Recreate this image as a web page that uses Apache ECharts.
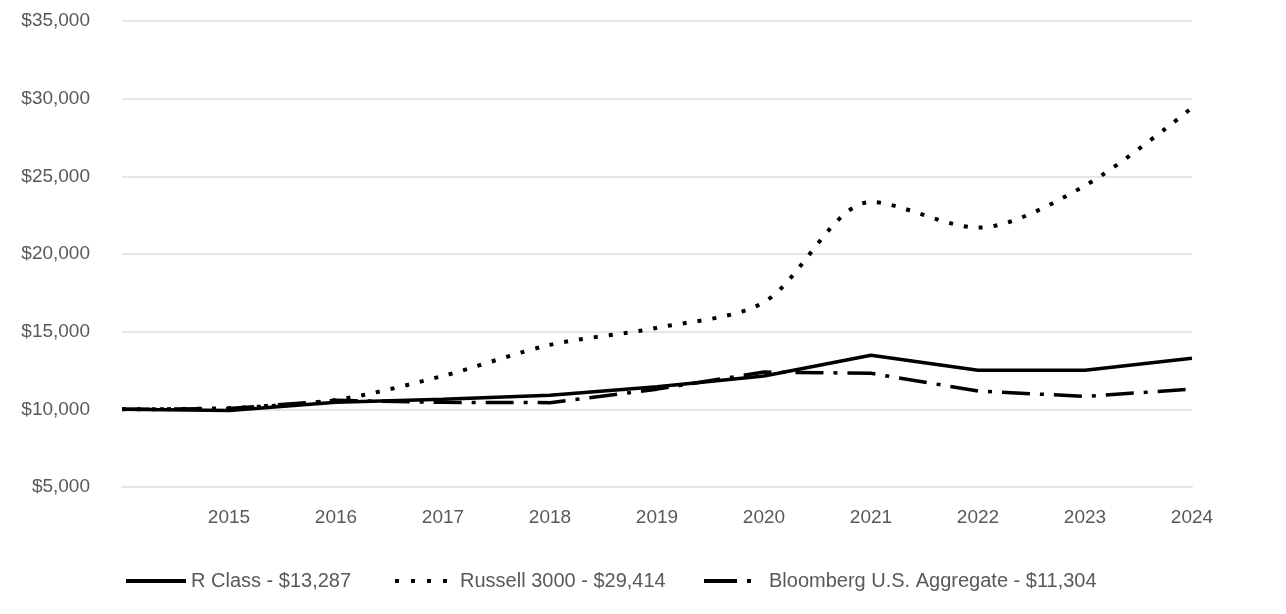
<!DOCTYPE html>
<html><head><meta charset="utf-8">
<script src="https://cdn.jsdelivr.net/npm/echarts@6/dist/echarts.min.js"></script>
<style>html,body{margin:0;padding:0;background:#fff}#c{width:1286px;height:614px}</style>
</head><body><div id="c"></div>
<script>
const years = ['2014','2015','2016','2017','2018','2019','2020','2021','2022','2023','2024'];
const rClass = [10000, 9930, 10450, 10650, 10900, 11450, 12150, 13480, 12520, 12520, 13287];
const russell = [10000, 10080, 10600, 12150, 14150, 15250, 16900, 23350, 21700, 24400, 29414];
const bloomberg = [10000, 10050, 10580, 10450, 10430, 11300, 12400, 12320, 11180, 10830, 11304];
const names = ['R Class - $13,287', 'Russell 3000 - $29,414', 'Bloomberg U.S. Aggregate - $11,304'];
const yTicks = {min: 5000, max: 35000, interval: 5000};
const font = "'Liberation Sans Narrow','Arial Narrow','Liberation Sans',Arial,sans-serif";
const legendLeft = [124, 393, 702];
const legendDash = ['solid', [4, 12], [33, 10, 4, 20]];
const chart = echarts.init(document.getElementById('c'), null, {renderer: 'canvas'});
chart.setOption({
  animation: false,
  grid: {left: 122, right: 94, top: 21, bottom: 127, containLabel: false},
  xAxis: {
    type: 'category', data: years, boundaryGap: false,
    axisLine: {show: true, lineStyle: {color: '#e6e6e6', width: 2}},
    axisTick: {show: false},
    axisLabel: {color: '#595959', fontSize: 19, fontFamily: font, margin: 21,
      formatter: (v, i) => i === 0 ? '' : v},
    splitLine: {show: false}
  },
  yAxis: {
    type: 'value', min: yTicks.min, max: yTicks.max, interval: yTicks.interval,
    axisLine: {show: false}, axisTick: {show: false},
    axisLabel: {color: '#595959', fontSize: 19, fontFamily: font, margin: 32,
      formatter: v => '$' + v.toLocaleString('en-US')},
    splitLine: {lineStyle: {color: '#e6e6e6', width: 2}}
  },
  legend: names.map((n, i) => ({
    bottom: 23, left: legendLeft[i], padding: 0, itemWidth: 60, itemHeight: 14, itemGap: 5,
    itemStyle: {opacity: 0},
    lineStyle: {width: 4, color: '#000', type: legendDash[i], cap: 'butt'},
    textStyle: {color: '#595959', fontSize: 20, fontFamily: font},
    data: [n]
  })),
  series: [
    {name: names[0], type: 'line', data: rClass, showSymbol: false, symbol: 'none',
      lineStyle: {color: '#000', width: 3.5}, itemStyle: {color: '#000'}},
    {name: names[1], type: 'line', data: russell, showSymbol: false, symbol: 'none', smooth: 0.3,
      lineStyle: {color: '#000', width: 4, type: [4, 11], cap: 'butt'}, itemStyle: {color: '#000'}},
    {name: names[2], type: 'line', data: bloomberg, showSymbol: false, symbol: 'none',
      lineStyle: {color: '#000', width: 3.5, type: [28, 10, 4, 10], cap: 'butt'}, itemStyle: {color: '#000'}}
  ]
});
</script></body></html>
